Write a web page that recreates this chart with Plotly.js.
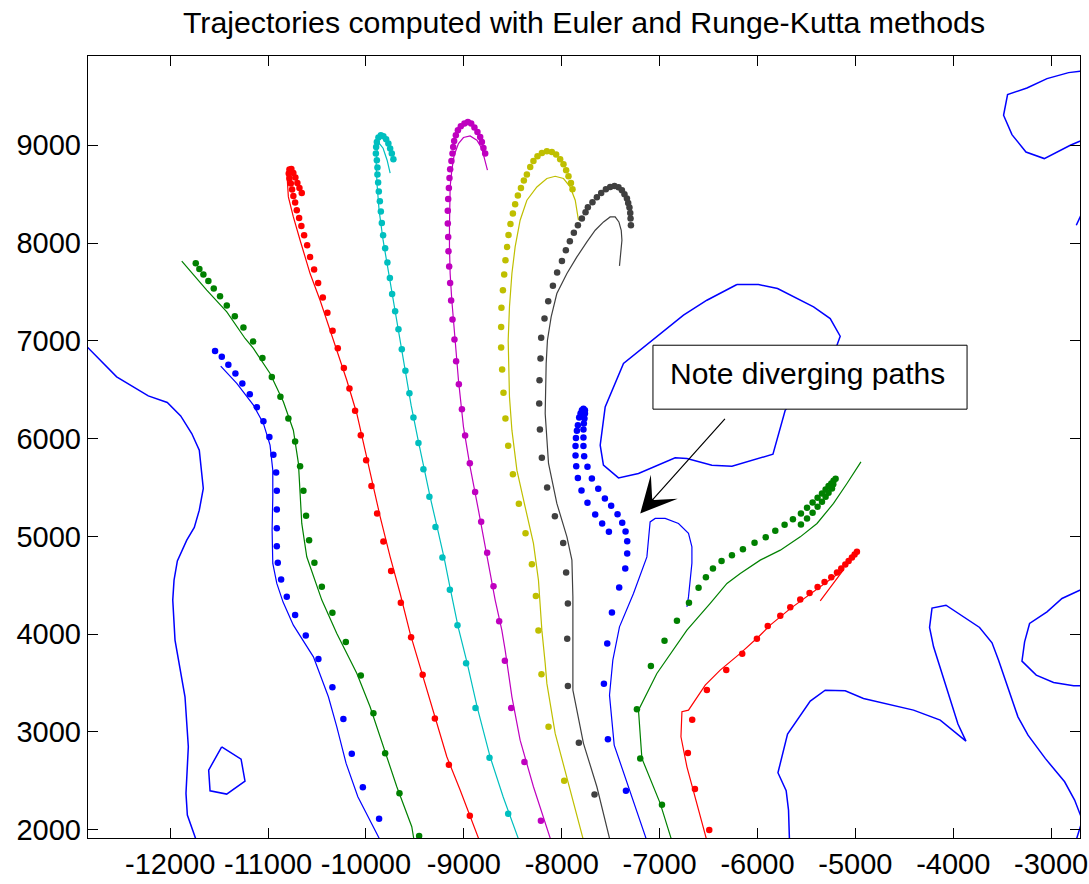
<!DOCTYPE html>
<html>
<head>
<meta charset="utf-8">
<script src="https://cdn.plot.ly/plotly-3.0.1.min.js"></script>
<style>html,body{margin:0;padding:0;background:#fff;}</style>
</head>
<body>
<div id="chart" style="width:1089px;height:884px;"></div>
<script>
// ---------- tick labels ----------
const xTickVals = [-12000,-11000,-10000,-9000,-8000,-7000,-6000,-5000,-4000,-3000];
const xTickLabels = ['-12000','-11000','-10000','-9000','-8000','-7000','-6000','-5000','-4000','-3000'];
const yTickVals = [2000,3000,4000,5000,6000,7000,8000,9000];
const yTickLabels = ['2000','3000','4000','5000','6000','7000','8000','9000'];

// ---------- contour lines (blue) ----------
const contour1X = [-12900,-12547,-12224,-12030,-11893,-11780,-11703,-11662,-11703,-11754,-11831,-11927,-11961,-11974,-11951,-11900,-11849,-11815,-11839,-11825,-11730];
const contour1Y = [6990,6631,6437,6369,6232,6052,5881,5490,5268,5091,4961,4749,4552,4348,3939,3666,3359,2848,2371,2149,1880];
const contour2X = [-11474,-11276,-11236,-11423,-11593,-11607,-11474];
const contour2Y = [2848,2722,2497,2364,2398,2609,2848];
const contour3X = [-6210,-6517,-6756,-7079,-7369,-7556,-7607,-7574,-7420,-7216,-6841,-6721,-6466,-6261,-5842,-5717,-5188,-5155,-5257,-5427,-5795,-5990,-6210];
const contour3Y = [7576,7415,7262,7006,6768,6324,5932,5728,5598,5643,5803,5797,5728,5718,5840,6290,6955,7047,7228,7347,7535,7576,7576];
const contour4X = [-5673,-5683,-5707,-5791,-5693,-5461,-5308,-5104,-4917,-4610,-4406,-4133,-3870,-3952,-4030,-4201,-4242,-4217,-4074,-3731,-3604,-3537,-3339,-3236,-3060,-2862,-2760,-2681,-2748];
const contour4Y = [1880,2200,2398,2582,2977,3315,3427,3420,3342,3274,3223,3121,2906,3080,3325,3870,4068,4266,4296,4068,3911,3734,3154,2967,2729,2490,2303,2098,1880];
const contour5X = [-2650,-2889,-3042,-3220,-3271,-3298,-3152,-2975,-2770,-2650];
const contour5Y = [4475,4365,4228,4109,3921,3724,3581,3506,3471,3473];
const contour6X = [-2650,-2821,-3042,-3247,-3445,-3486,-3400,-3257,-3070,-2804,-2650];
const contour6Y = [9765,9743,9682,9586,9518,9307,9109,8931,8864,9000,9065];
const contour7X = [-2743,-2661];
const contour7Y = [8182,8356];

// ---------- trajectories: Runge-Kutta (line) and Euler (dots) ----------
const t1LineX = [-11484,-11320,-11150,-11048,-10980,-10952,-10952,-10959,-10952,-10911,-10847,-10742,-10537,-10384,-10298,-10203,-10083,-9975,-9849];
const t1LineY = [6741,6564,6342,6155,5933,5677,5404,5064,4723,4519,4328,4092,3768,3359,3052,2678,2337,2132,1880];
const t1DotX = [-11542,-11473,-11406,-11334,-11263,-11187,-11115,-11048,-10987,-10946,-10918,-10911,-10911,-10911,-10911,-10901,-10867,-10809,-10724,-10615,-10486,-10343,-10231,-10145,-10032,-9866];
const t1DotY = [6897,6836,6754,6666,6564,6454,6321,6178,6015,5834,5654,5466,5275,5084,4900,4729,4560,4382,4195,3987,3745,3458,3131,2776,2433,2112];

const t2LineX = [-11882,-11627,-11422,-11235,-11150,-10980,-10844,-10742,-10690,-10673,-10656,-10605,-10502,-10451,-10298,-10094,-9958,-9822,-9685,-9532,-9507];
const t2LineY = [7814,7518,7296,7024,6922,6666,6376,6086,5746,5473,5132,4791,4484,4348,4007,3599,3257,2848,2439,2030,1880];
const t2DotX = [-11739,-11702,-11661,-11610,-11555,-11491,-11422,-11340,-11252,-11153,-11058,-10962,-10874,-10793,-10724,-10673,-10639,-10612,-10581,-10527,-10451,-10343,-10206,-10053,-9924,-9804,-9658,-9457];
const t2DotY = [7794,7735,7678,7613,7535,7456,7361,7252,7136,6993,6825,6631,6427,6206,5971,5718,5466,5210,4961,4729,4484,4218,3919,3578,3190,2781,2372,1935];

const t3LineX = [-10786,-10806,-10793,-10742,-10673,-10571,-10469,-10366,-10282,-10196,-10094,-10009,-9940,-9855,-9753,-9651,-9549,-9431,-9311,-9174,-9038,-8838];
const t3LineY = [8745,8683,8472,8267,8029,7688,7415,7109,6870,6597,6257,5882,5575,5200,4791,4416,4007,3612,3223,2746,2405,1880];
const t3DotX = [-10656,-10680,-10701,-10721,-10742,-10762,-10782,-10789,-10782,-10768,-10755,-10742,-10724,-10707,-10683,-10660,-10632,-10601,-10571,-10530,-10489,-10441,-10394,-10341,-10288,-10226,-10169,-10111,-10053,-9998,-9944,-9886,-9822,-9743,-9644,-9539,-9421,-9296,-9153,-8939];
const t3DotY = [8513,8564,8615,8670,8717,8758,8752,8711,8660,8609,8547,8482,8414,8336,8257,8175,8080,7978,7858,7729,7592,7443,7286,7104,6925,6723,6513,6284,6035,5779,5514,5234,4948,4647,4320,3967,3584,3138,2664,2143];

const t4LineX = [-9753,-9784,-9825,-9866,-9886,-9896,-9886,-9866,-9825,-9774,-9723,-9671,-9610,-9539,-9467,-9406,-9344,-9273,-9201,-9140,-9058,-8966,-8864,-8731,-8598,-8433];
const t4LineY = [8714,8847,8970,9021,8949,8796,8591,8336,8029,7722,7415,7109,6751,6342,5984,5677,5401,5094,4777,4471,4072,3704,3254,2743,2334,1880];
const t4DotX = [-9720,-9736,-9753,-9771,-9794,-9822,-9848,-9873,-9889,-9896,-9899,-9889,-9883,-9883,-9876,-9869,-9858,-9848,-9838,-9825,-9804,-9781,-9756,-9733,-9702,-9668,-9634,-9597,-9556,-9515,-9464,-9413,-9352,-9290,-9219,-9143,-9065,-8977,-8881,-8738,-8547];
const t4DotY = [8857,8915,8967,9018,9062,9092,9103,9079,9034,8983,8915,8847,8772,8701,8619,8527,8428,8322,8206,8080,7947,7801,7643,7480,7303,7119,6914,6693,6465,6216,5956,5687,5404,5097,4784,4453,4092,3701,3244,2735,2163];

const t5LineX = [-8759,-8782,-8816,-8867,-8936,-9004,-9055,-9099,-9123,-9140,-9147,-9147,-9147,-9140,-9123,-9106,-9089,-9055,-9004,-8936,-8851,-8765,-8680,-8612,-8578,-8509,-8425,-8289,-8107];
const t5LineY = [8745,8847,8967,9051,9095,9079,9018,8898,8745,8574,8369,8165,7960,7688,7415,7211,7058,6597,6120,5711,5268,4825,4348,4041,3837,3359,2916,2439,1880];
const t5DotX = [-8782,-8800,-8816,-8833,-8861,-8892,-8925,-8959,-8994,-9031,-9061,-9082,-9099,-9109,-9116,-9127,-9140,-9147,-9153,-9160,-9164,-9164,-9160,-9157,-9150,-9140,-9130,-9116,-9096,-9079,-9051,-9020,-8987,-8939,-8885,-8823,-8762,-8697,-8639,-8581,-8517,-8381,-8213];
const t5DotY = [8915,8973,9034,9085,9136,9181,9222,9239,9222,9195,9154,9103,9044,8983,8915,8840,8755,8666,8564,8451,8329,8200,8063,7917,7760,7592,7412,7218,7014,6792,6557,6301,6032,5749,5455,5149,4832,4491,4133,3727,3244,2692,2091];

const t6LineX = [-7829,-7862,-7914,-7982,-8067,-8152,-8254,-8356,-8425,-8476,-8509,-8534,-8547,-8534,-8509,-8458,-8374,-8289,-8238,-8203,-8169,-8152,-8067,-7947,-7775];
const t6LineY = [8233,8438,8574,8660,8683,8660,8574,8438,8233,7960,7688,7347,7006,6427,6086,5677,5302,4928,4553,4041,3701,3496,2985,2541,1880];
const t6DotX = [-7890,-7906,-7931,-7955,-7982,-8016,-8057,-8101,-8152,-8203,-8248,-8289,-8322,-8356,-8387,-8417,-8448,-8476,-8499,-8524,-8544,-8558,-8575,-8588,-8601,-8616,-8619,-8619,-8609,-8595,-8575,-8547,-8499,-8438,-8370,-8305,-8264,-8238,-8207,-8135,-7975];
const t6DotY = [8550,8615,8683,8745,8806,8857,8905,8932,8939,8922,8888,8840,8778,8701,8639,8564,8486,8397,8302,8196,8083,7960,7825,7678,7518,7337,7142,6932,6707,6468,6206,5926,5636,5333,5033,4716,4389,4038,3591,3052,2500];

const t7LineX = [-7410,-7403,-7385,-7392,-7416,-7454,-7505,-7573,-7658,-7743,-7845,-7947,-8050,-8108,-8146,-8159,-8169,-8135,-8050,-7947,-7896,-7886,-7886,-7886,-7778,-7641,-7504];
const t7LineY = [7766,7858,8029,8131,8216,8267,8267,8216,8131,8012,7858,7688,7484,7245,7006,6768,6257,5746,5337,4995,4757,4382,4041,3428,2883,2439,1880];
const t7DotX = [-7293,-7297,-7300,-7308,-7321,-7334,-7359,-7385,-7420,-7461,-7505,-7549,-7597,-7641,-7686,-7733,-7757,-7794,-7835,-7876,-7917,-7958,-7998,-8047,-8090,-8138,-8176,-8210,-8217,-8227,-8230,-8223,-8203,-8149,-8070,-7985,-7955,-7937,-7944,-7937,-7825,-7665];
const t7DotY = [8182,8251,8308,8363,8410,8455,8499,8540,8571,8584,8574,8550,8513,8469,8417,8366,8315,8251,8182,8104,8019,7927,7817,7699,7562,7405,7228,7032,6819,6597,6359,6093,5803,5500,5207,4931,4631,4314,3952,3469,2889,2361];

const t8LineX = [-7128,-7464,-7512,-7478,-7410,-7267,-7130,-7104,-7097,-7045,-6943,-6807,-6705,-6670,-6670,-6705,-6721];
const t8LineY = [1880,2865,3376,3734,4075,4416,4790,5063,5148,5183,5183,5132,5030,4893,4726,4381,4279];
const t8DotX = [-7344,-7528,-7569,-7535,-7487,-7413,-7351,-7331,-7331,-7348,-7382,-7430,-7495,-7559,-7627,-7692,-7737,-7771,-7778,-7778,-7778,-7774,-7768,-7763,-7763,-7778,-7794,-7808,-7822,-7835,-7845,-7855,-7859,-7859,-7852,-7835,-7798,-7737,-7658,-7587,-7518];
const t8DotY = [2398,2924,3492,3905,4222,4478,4672,4825,4951,5050,5138,5227,5312,5388,5486,5592,5711,5820,5923,6012,6093,6155,6206,6257,6291,6304,6291,6257,6216,6137,6079,6007,5923,5827,5718,5598,5470,5343,5224,5132,5046];

const t9LineX = [-6873,-6994,-7181,-7216,-7028,-6721,-6483,-6312,-6176,-5972,-5767,-5563,-5392,-5223,-5086,-4943];
const t9LineY = [1880,2269,2729,3223,3598,4041,4314,4519,4621,4757,4859,4995,5132,5337,5541,5762];
const t9DotX = [-6976,-7198,-7232,-7089,-6950,-6823,-6700,-6602,-6527,-6455,-6367,-6261,-6149,-6030,-5916,-5818,-5723,-5638,-5556,-5494,-5437,-5386,-5341,-5304,-5274,-5246,-5223,-5202,-5556,-5494,-5437,-5386,-5341,-5304,-5274,-5239,-5226];
const t9DotY = [2255,2729,3233,3673,3932,4138,4320,4474,4583,4672,4747,4808,4869,4934,4992,5057,5118,5176,5234,5292,5347,5394,5439,5480,5514,5541,5568,5588,5122,5183,5241,5302,5353,5404,5445,5490,5534];

const t10LineX = [-6515,-6721,-6782,-6772,-6705,-6534,-6381,-6176,-5989,-5870,-5665,-5461,-5277,-5124,-5359];
const t10LineY = [1880,2643,2950,3206,3223,3479,3632,3803,3973,4092,4261,4409,4542,4655,4341];
const t10DotX = [-6493,-6639,-6711,-6667,-6517,-6319,-6156,-6006,-5895,-5767,-5665,-5563,-5468,-5386,-5315,-5246,-5188,-5144,-5103,-5069,-5035,-5008,-4984];
const t10DotY = [1996,2415,2784,3124,3428,3632,3799,3952,4082,4187,4276,4355,4420,4481,4532,4583,4631,4672,4713,4747,4785,4815,4842];

// ---------- styling ----------
const FONT = 'Liberation Sans, Arial, Helvetica, sans-serif';
const BLUE = '#0000ff', GREEN = '#008000', RED = '#ff0000', CYAN = '#00bfbf',
      MAGENTA = '#bf00bf', OLIVE = '#bfbf00', GRAY = '#404040';

const contours = [
  [contour1X, contour1Y], [contour2X, contour2Y], [contour3X, contour3Y],
  [contour4X, contour4Y], [contour5X, contour5Y], [contour6X, contour6Y],
  [contour7X, contour7Y]
];
const trajectories = [
  [t1LineX, t1LineY, t1DotX, t1DotY, BLUE],
  [t2LineX, t2LineY, t2DotX, t2DotY, GREEN],
  [t3LineX, t3LineY, t3DotX, t3DotY, RED],
  [t4LineX, t4LineY, t4DotX, t4DotY, CYAN],
  [t5LineX, t5LineY, t5DotX, t5DotY, MAGENTA],
  [t6LineX, t6LineY, t6DotX, t6DotY, OLIVE],
  [t7LineX, t7LineY, t7DotX, t7DotY, GRAY],
  [t8LineX, t8LineY, t8DotX, t8DotY, BLUE],
  [t9LineX, t9LineY, t9DotX, t9DotY, GREEN],
  [t10LineX, t10LineY, t10DotX, t10DotY, RED]
];

const traces = [];
contours.forEach(([x, y]) => {
  traces.push({type: 'scatter', mode: 'lines', x, y, hoverinfo: 'skip',
    line: {color: BLUE, width: 1.5}});
});
trajectories.forEach(([lx, ly, dx, dy, c]) => {
  traces.push({type: 'scatter', mode: 'lines', x: lx, y: ly, hoverinfo: 'skip',
    line: {color: c, width: 1.2}});
  traces.push({type: 'scatter', mode: 'markers', x: dx, y: dy, hoverinfo: 'skip',
    marker: {color: c, size: 6.5, line: {width: 0}}});
});

const axisCommon = {
  showgrid: false, zeroline: false, showline: true, linecolor: '#000', linewidth: 1.2,
  mirror: 'ticks', ticks: 'inside', ticklen: 10, tickwidth: 1, tickcolor: '#000',
  tickmode: 'array', tickfont: {family: FONT, size: 29, color: '#000'}
};

const layout = {
  width: 1089, height: 884,
  margin: {l: 88, r: 9, t: 56, b: 46, pad: 0},
  paper_bgcolor: '#fff', plot_bgcolor: '#fff',
  showlegend: false,
  title: {text: 'Trajectories computed with Euler and Runge-Kutta methods',
    font: {family: FONT, size: 30.3, color: '#000'},
    xref: 'paper', x: 0.5, xanchor: 'center',
    yref: 'container', y: 1 - 22 / 884, yanchor: 'middle'},
  xaxis: Object.assign({}, axisCommon, {range: [-12840, -2705],
    tickvals: xTickVals, ticktext: xTickLabels}),
  yaxis: Object.assign({}, axisCommon, {range: [1915, 9913],
    tickvals: yTickVals, ticktext: yTickLabels}),
  shapes: [{type: 'rect', xref: 'x', yref: 'y', x0: -7068, x1: -3859, y0: 6301, y1: 6955,
    line: {color: '#000', width: 1}, fillcolor: '#fff', layer: 'above'}],
  annotations: [
    {xref: 'x', yref: 'y', x: -5494, y: 6669, text: 'Note diverging paths', showarrow: false,
      xanchor: 'center', yanchor: 'middle', font: {family: FONT, size: 30, color: '#000'}},
    {xref: 'x', yref: 'y', axref: 'x', ayref: 'y', x: -7198, y: 5234, ax: -6319, ay: 6216,
      text: '', showarrow: true, arrowhead: 3, arrowsize: 5, arrowwidth: 1.2, arrowcolor: '#000'}
  ]
};

Plotly.newPlot('chart', traces, layout, {displayModeBar: false, staticPlot: true});
</script>
</body>
</html>
